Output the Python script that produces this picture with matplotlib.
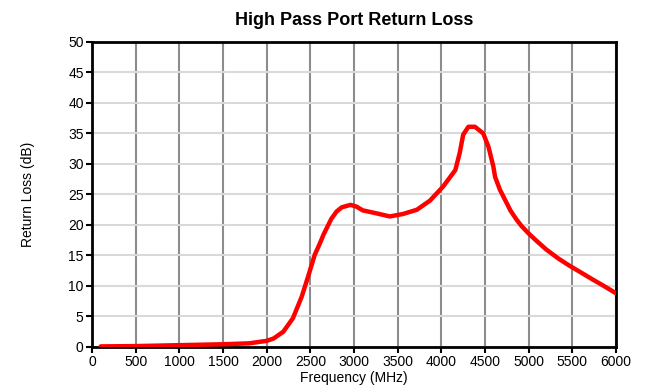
import matplotlib
matplotlib.use('Agg')
import matplotlib.pyplot as plt

plt.rcParams['font.family'] = ['Liberation Sans', 'DejaVu Sans']

# frequency (MHz) and return loss (dB)
freq = [100, 500, 1000, 1500, 1800, 1920, 2000, 2080, 2190, 2300, 2400, 2480,
        2550, 2610, 2650, 2740, 2800, 2860, 2960, 3030, 3100, 3260, 3410, 3560,
        3720, 3870, 4020, 4160, 4210, 4250, 4310, 4385, 4480, 4540, 4595, 4615,
        4670, 4730, 4790, 4860, 4920, 5000, 5090, 5200, 5340, 5470, 5600, 5740,
        5850, 6000]
rl = [0.1, 0.15, 0.3, 0.45, 0.6, 0.85, 1.0, 1.4, 2.5, 4.7, 8.2, 11.8,
      15.1, 17.0, 18.4, 21.0, 22.2, 22.9, 23.3, 23.0, 22.4, 21.9, 21.4, 21.8,
      22.5, 24.0, 26.3, 29.0, 31.8, 34.8, 36.1, 36.1, 35.0, 32.8, 29.6, 27.9,
      25.8, 24.1, 22.4, 20.9, 19.8, 18.6, 17.4, 16.0, 14.5, 13.3, 12.2, 11.0,
      10.1, 8.8]

fig = plt.figure(figsize=(6.46, 3.92), dpi=100)
ax = fig.add_axes([0.1424, 0.1148, 0.8112, 0.7781])

ax.plot(freq, rl, color='#ff0000', lw=3.2, solid_capstyle='round',
        solid_joinstyle='round', zorder=3)

ax.set_xlim(0, 6000)
ax.set_ylim(0, 50)
ax.set_xticks(range(0, 6001, 500))
ax.set_yticks(range(0, 51, 5))
ax.xaxis.grid(True, color='#8c8c8c', lw=1.5)
ax.yaxis.grid(True, color='#d9d9d9', lw=1.5)
ax.set_axisbelow(True)
for s in ax.spines.values():
    s.set_linewidth(2)
ax.tick_params(direction='out', length=4, width=1.5, labelsize=10, pad=2)

ax.set_title('High Pass Port Return Loss', fontsize=13, fontweight='bold', pad=12)
ax.set_xlabel('Frequency (MHz)', fontsize=10, labelpad=1)
ax.set_ylabel('Return Loss (dB)', fontsize=10, labelpad=24)

fig.savefig('out.png', dpi=100)
